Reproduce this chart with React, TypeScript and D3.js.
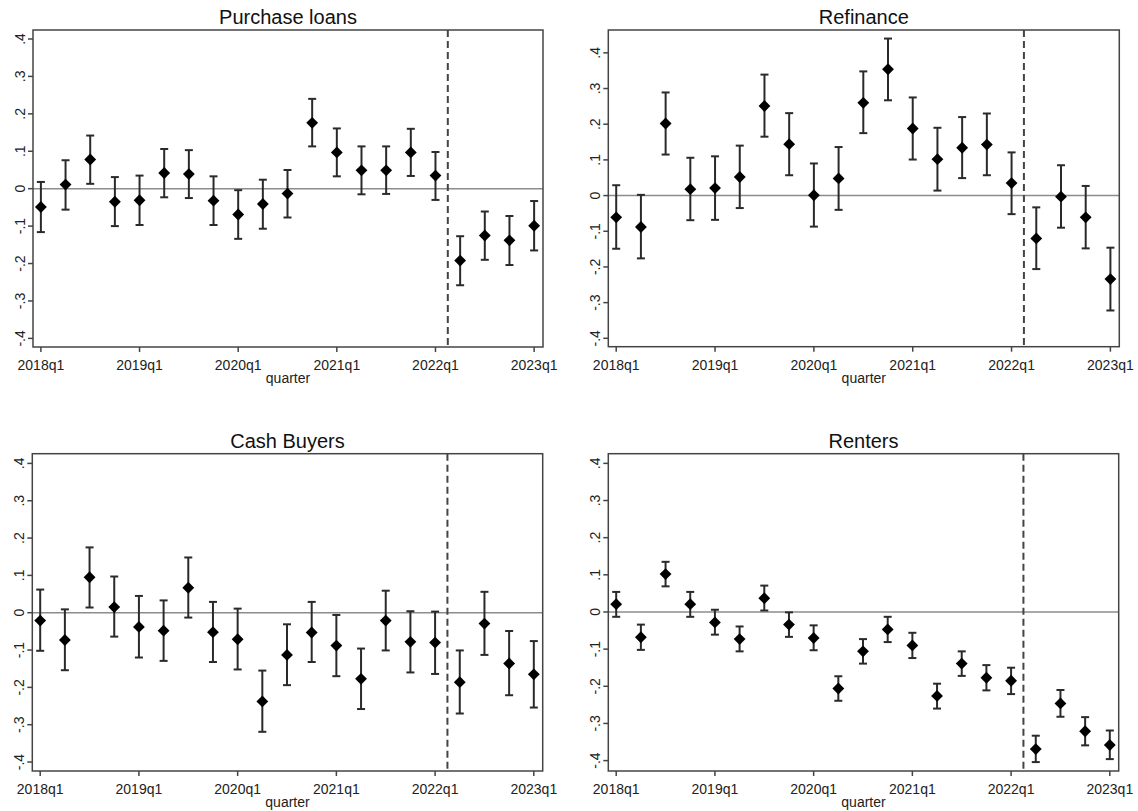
import React, { useEffect, useRef } from 'react';
import * as d3 from 'd3';

// quarters 2018q1 .. 2023q1 (index 0..20)
const quarters = d3.range(0, 21);
const tickQuarters = [0, 4, 8, 12, 16, 20];
const tickLabels = ['2018q1', '2019q1', '2020q1', '2021q1', '2022q1', '2023q1'];
const yTicks = [0.4, 0.3, 0.2, 0.1, 0, -0.1, -0.2, -0.3, -0.4];
const yTickLabels = ['.4', '.3', '.2', '.1', '0', '-.1', '-.2', '-.3', '-.4'];
const breakQuarter = 16.5;

const titles = ['Purchase loans', 'Refinance', 'Cash Buyers', 'Renters'];

const purchaseEst = [-0.049, 0.011, 0.078, -0.035, -0.031, 0.042, 0.039, -0.032, -0.069, -0.041, -0.013, 0.176, 0.097, 0.049, 0.049, 0.097, 0.035, -0.192, -0.125, -0.138, -0.099];
const purchaseHi = [0.018, 0.076, 0.142, 0.031, 0.035, 0.106, 0.103, 0.033, -0.004, 0.024, 0.05, 0.24, 0.161, 0.113, 0.113, 0.16, 0.098, -0.127, -0.061, -0.073, -0.033];
const purchaseLo = [-0.116, -0.056, 0.013, -0.1, -0.097, -0.023, -0.025, -0.097, -0.134, -0.107, -0.077, 0.113, 0.033, -0.015, -0.014, 0.034, -0.03, -0.258, -0.19, -0.204, -0.165];

const refiEst = [-0.061, -0.088, 0.202, 0.018, 0.021, 0.052, 0.251, 0.144, 0.001, 0.048, 0.26, 0.354, 0.188, 0.102, 0.134, 0.143, 0.035, -0.12, -0.003, -0.061, -0.234];
const refiHi = [0.029, 0.002, 0.289, 0.106, 0.11, 0.14, 0.339, 0.231, 0.09, 0.136, 0.348, 0.44, 0.275, 0.19, 0.22, 0.23, 0.121, -0.033, 0.085, 0.027, -0.146];
const refiLo = [-0.149, -0.176, 0.115, -0.069, -0.068, -0.035, 0.165, 0.057, -0.087, -0.04, 0.175, 0.267, 0.101, 0.014, 0.049, 0.057, -0.052, -0.206, -0.09, -0.148, -0.322];

const cashEst = [-0.021, -0.073, 0.095, 0.015, -0.038, -0.048, 0.067, -0.052, -0.071, -0.2375, -0.113, -0.053, -0.088, -0.177, -0.021, -0.078, -0.08, -0.186, -0.029, -0.136, -0.165];
const cashHi = [0.062, 0.009, 0.175, 0.097, 0.045, 0.033, 0.148, 0.029, 0.011, -0.155, -0.031, 0.029, -0.006, -0.096, 0.059, 0.004, 0.003, -0.101, 0.056, -0.049, -0.076];
const cashLo = [-0.102, -0.154, 0.014, -0.064, -0.12, -0.129, -0.013, -0.132, -0.152, -0.319, -0.194, -0.132, -0.17, -0.258, -0.101, -0.16, -0.164, -0.27, -0.113, -0.221, -0.254];

const rentEst = [0.021, -0.068, 0.102, 0.021, -0.028, -0.073, 0.037, -0.034, -0.07, -0.206, -0.106, -0.047, -0.09, -0.226, -0.139, -0.177, -0.185, -0.369, -0.246, -0.321, -0.358];
const rentHi = [0.054, -0.034, 0.135, 0.054, 0.006, -0.039, 0.071, -0.001, -0.036, -0.173, -0.073, -0.013, -0.056, -0.193, -0.106, -0.143, -0.15, -0.333, -0.21, -0.283, -0.319];
const rentLo = [-0.013, -0.102, 0.069, -0.013, -0.061, -0.106, 0.004, -0.067, -0.103, -0.239, -0.139, -0.081, -0.124, -0.26, -0.172, -0.211, -0.221, -0.404, -0.282, -0.359, -0.396];

const panels = [
  { title: titles[0], est: purchaseEst, hi: purchaseHi, lo: purchaseLo, x0: 33, x1: 543, y0: 30, y1: 347, yMin: -0.423, yMax: 0.424 },
  { title: titles[1], est: refiEst, hi: refiHi, lo: refiLo, x0: 608.3, x1: 1119.3, y0: 30, y1: 346.7, yMin: -0.4235, yMax: 0.464 },
  { title: titles[2], est: cashEst, hi: cashHi, lo: cashLo, x0: 32.3, x1: 542.7, y0: 453.7, y1: 771, yMin: -0.424, yMax: 0.426 },
  { title: titles[3], est: rentEst, hi: rentHi, lo: rentLo, x0: 608.3, x1: 1118.7, y0: 453.7, y1: 771, yMin: -0.428, yMax: 0.426 },
];

const font = '"Liberation Sans", Arial, sans-serif';

export default function App() {
  const ref = useRef<SVGSVGElement>(null);

  useEffect(() => {
    const svg = d3.select(ref.current);
    svg.selectAll('*').remove();

    panels.forEach((p) => {
      const x = d3.scaleLinear().domain([-0.32, 20.36]).range([p.x0, p.x1]);
      const y = d3.scaleLinear().domain([p.yMin, p.yMax]).range([p.y1, p.y0]);
      const g = svg.append('g');

      // zero line
      g.append('line')
        .attr('x1', p.x0).attr('x2', p.x1)
        .attr('y1', y(0)).attr('y2', y(0))
        .attr('stroke', '#8c8c8c').attr('stroke-width', 1.5);

      // vertical dashed break
      g.append('line')
        .attr('x1', x(breakQuarter)).attr('x2', x(breakQuarter))
        .attr('y1', p.y0).attr('y2', p.y1)
        .attr('stroke', '#444').attr('stroke-width', 2)
        .attr('stroke-dasharray', '7,4');

      // error bars
      const bars = g.selectAll('g.ci').data(quarters).enter().append('g');
      bars.append('line')
        .attr('x1', (d) => x(d)).attr('x2', (d) => x(d))
        .attr('y1', (d) => y(p.hi[d])).attr('y2', (d) => y(p.lo[d]))
        .attr('stroke', '#2a2a2a').attr('stroke-width', 2);
      bars.append('line')
        .attr('x1', (d) => x(d) - 4).attr('x2', (d) => x(d) + 4)
        .attr('y1', (d) => y(p.hi[d])).attr('y2', (d) => y(p.hi[d]))
        .attr('stroke', '#2a2a2a').attr('stroke-width', 2);
      bars.append('line')
        .attr('x1', (d) => x(d) - 4).attr('x2', (d) => x(d) + 4)
        .attr('y1', (d) => y(p.lo[d])).attr('y2', (d) => y(p.lo[d]))
        .attr('stroke', '#2a2a2a').attr('stroke-width', 2);

      // diamonds
      const diamond = d3.symbol().type(d3.symbolSquare).size(70);
      g.selectAll('path.pt').data(quarters).enter()
        .append('path')
        .attr('d', diamond)
        .attr('transform', (d) => `translate(${x(d)},${y(p.est[d])}) rotate(45)`)
        .attr('fill', '#000');

      // frame
      g.append('rect')
        .attr('x', p.x0).attr('y', p.y0)
        .attr('width', p.x1 - p.x0).attr('height', p.y1 - p.y0)
        .attr('fill', 'none').attr('stroke', '#444').attr('stroke-width', 1.5);

      // y ticks
      yTicks.forEach((t, i) => {
        g.append('line')
          .attr('x1', p.x0 - 5).attr('x2', p.x0)
          .attr('y1', y(t)).attr('y2', y(t))
          .attr('stroke', '#444').attr('stroke-width', 1.5);
        g.append('text')
          .attr('transform', `translate(${p.x0 - 8},${y(t)}) rotate(-90)`)
          .attr('text-anchor', 'middle')
          .attr('font-family', font).attr('font-size', 14).attr('fill', '#222')
          .text(yTickLabels[i]);
      });

      // x ticks
      tickQuarters.forEach((q, i) => {
        g.append('line')
          .attr('x1', x(q)).attr('x2', x(q))
          .attr('y1', p.y1).attr('y2', p.y1 + 5)
          .attr('stroke', '#444').attr('stroke-width', 1.5);
        g.append('text')
          .attr('x', x(q)).attr('y', p.y1 + 23)
          .attr('text-anchor', 'middle')
          .attr('font-family', font).attr('font-size', 14).attr('fill', '#222')
          .text(tickLabels[i]);
      });

      g.append('text')
        .attr('x', (p.x0 + p.x1) / 2).attr('y', p.y1 + 36)
        .attr('text-anchor', 'middle')
        .attr('font-family', font).attr('font-size', 14).attr('fill', '#222')
        .text('quarter');

      g.append('text')
        .attr('x', (p.x0 + p.x1) / 2).attr('y', p.y0 - 6)
        .attr('text-anchor', 'middle')
        .attr('font-family', font).attr('font-size', 20).attr('fill', '#111')
        .text(p.title);
    });
  }, []);

  return (
    <svg ref={ref} width={1138} height={811}
      style={{ position: 'absolute', left: 0, top: 0, background: '#fff' }} />
  );
}
